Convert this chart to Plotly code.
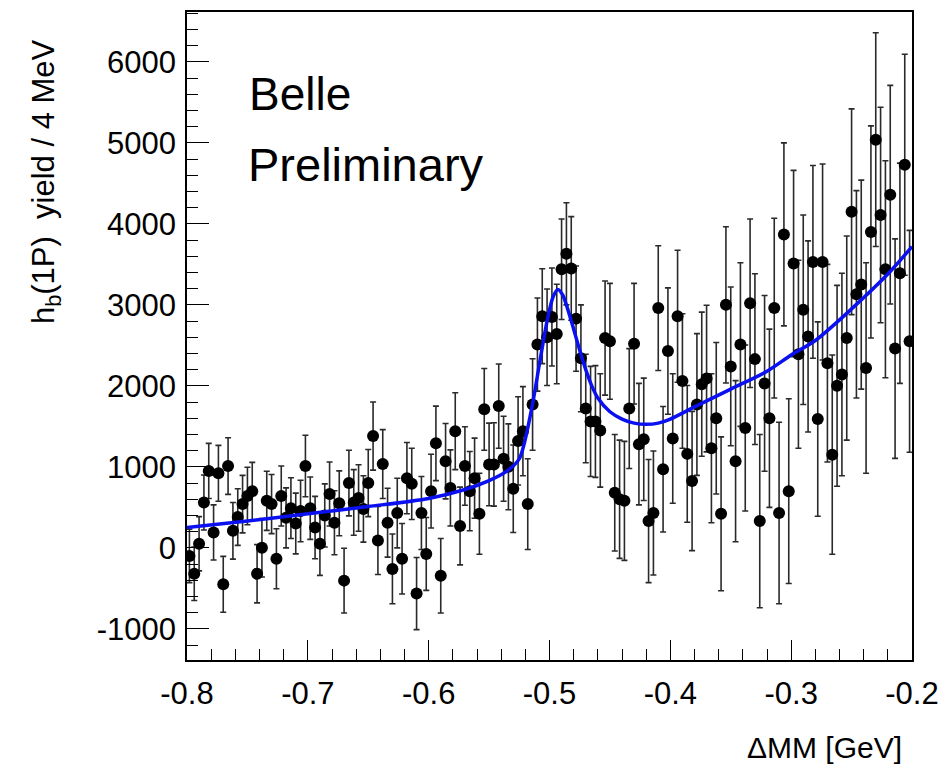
import plotly.graph_objects as go

# ---- data ----
BIN_LO = -0.8
BIN_W = 0.004

yield_vals = [
    -100, -320, 50, 560, 950, 190, 920, -450, 1010, 210,
    380, 540, 640, 700, -320, 0, 580, 540, -135, 640,
    370, 490, 300, 455, 1010, 490, 250, 50, 400, 665,
    310, 550, -405, 800, 560, 615, 480, 800, 1380, 90,
    1035, 310, -260, 430, -135, 860, 790, -565, 430, -75,
    700, 1290, -345, 1070, 740, 1440, 270, 1010, 700, 860,
    420, 1710, 1030, 1030, 1750, 1100, 1000, 730, 1320, 1440,
    540, 1770, 2510, 2860, 2600, 2850, 2640, 3440, 3630, 3450,
    2830, 2340, 1720, 1560, 1560, 1450, 2590, 2550, 680, 600,
    580, 1720, 2520, 1280, 1340, 330, 430, 2960, 970, 2430,
    1350, 2860, 2060, 1160, 825, 1770, 2020, 2090, 1230, 1600,
    420, 3000, 2240, 1070, 2510, 1480, 3020, 2330, 330, 2030,
    1600, 2960, 430, 3870, 700, 3510, 2390, 2940, 2610, 3530,
    1590, 3530, 2280, 1150, 2000, 2140, 2590, 4150, 3130, 3250,
    2220, 3900, 5040, 4110, 3440, 4360, 2460, 3390, 4730, 2550,
]

yield_err = [
    330, 330, 335, 340, 340, 340, 345, 345, 350, 350,
    350, 355, 355, 355, 360, 360, 365, 365, 370, 370,
    370, 375, 375, 380, 380, 385, 385, 390, 390, 395,
    395, 400, 400, 405, 405, 410, 410, 415, 420, 420,
    425, 425, 430, 430, 435, 440, 440, 445, 450, 450,
    455, 460, 460, 465, 470, 475, 480, 485, 490, 495,
    500, 505, 510, 515, 520, 525, 530, 540, 545, 550,
    560, 565, 575, 585, 595, 605, 615, 620, 630, 640,
    650, 660, 670, 680, 690, 700, 705, 715, 720, 730,
    735, 740, 745, 750, 755, 760, 765, 770, 775, 780,
    800, 815, 830, 845, 860, 875, 890, 905, 920, 935,
    950, 965, 980, 995, 1010, 1025, 1040, 1055, 1070, 1085,
    1100, 1110, 1120, 1130, 1140, 1150, 1160, 1170, 1180, 1190,
    1200, 1210, 1220, 1230, 1240, 1250, 1260, 1270, 1280, 1290,
    1300, 1310, 1320, 1330, 1340, 1350, 1355, 1360, 1365, 1370,
]

fit_x = [-0.8, -0.75, -0.7, -0.65, -0.6, -0.57, -0.55, -0.535, -0.525, -0.515,
         -0.508, -0.502, -0.497, -0.493, -0.489, -0.485, -0.48, -0.475, -0.47, -0.465,
         -0.46, -0.45, -0.44, -0.43, -0.42, -0.41, -0.4, -0.38, -0.35, -0.32,
         -0.3, -0.28, -0.25, -0.22, -0.2]
fit_y = [250, 330, 420, 510, 610, 720, 830, 950, 1100, 1700,
         2300, 2800, 3100, 3190, 3120, 2950, 2700, 2440, 2200, 2000,
         1850, 1680, 1590, 1540, 1525, 1540, 1590, 1740, 1960, 2180,
         2380, 2560, 2950, 3380, 3720]

x_tickvals = [-0.8, -0.7, -0.6, -0.5, -0.4, -0.3, -0.2]
x_ticktext = ["-0.8", "-0.7", "-0.6", "-0.5", "-0.4", "-0.3", "-0.2"]
y_tickvals = [-1000, 0, 1000, 2000, 3000, 4000, 5000, 6000]
y_ticktext = ["-1000", "0", "1000", "2000", "3000", "4000", "5000", "6000"]

bin_centers = [BIN_LO + BIN_W * (i + 0.5) for i in range(len(yield_vals))]

FONT = "Liberation Sans, Arial, Helvetica, sans-serif"

fig = go.Figure()
fig.add_trace(go.Scatter(
    x=bin_centers, y=yield_vals, mode="markers",
    marker=dict(color="black", size=12, symbol="circle"),
    error_y=dict(type="data", array=yield_err, color="#2a2a2a", thickness=1.6, width=3),
    showlegend=False,
))
fig.add_trace(go.Scatter(
    x=fit_x, y=fit_y, mode="lines",
    line=dict(color="#0a10f0", width=3.5, shape="spline", smoothing=0.8),
    showlegend=False,
))

axis_common = dict(
    showline=True, linecolor="black", linewidth=1.5, mirror=True,
    showgrid=False, zeroline=False, ticks="inside", tickcolor="black",
    tickwidth=1.2,
)

fig.update_xaxes(
    range=[-0.8, -0.2], tickmode="array", tickvals=x_tickvals, ticktext=x_ticktext,
    ticklen=20, ticklabelstandoff=5,
    tickfont=dict(family=FONT, size=31, color="black"),
    minor=dict(tick0=-0.8, dtick=0.02, ticks="inside", ticklen=11, tickcolor="black",
               tickwidth=1, showgrid=False),
    **axis_common,
)
fig.update_yaxes(
    range=[-1385, 6616], tickmode="array", tickvals=y_tickvals, ticktext=y_ticktext,
    ticklen=22, ticklabelstandoff=3,
    tickfont=dict(family=FONT, size=31, color="black"),
    minor=dict(tick0=0, dtick=200, ticks="inside", ticklen=11, tickcolor="black",
               tickwidth=1, showgrid=False),
    **axis_common,
)

fig.add_annotation(
    text="Belle", xref="paper", yref="paper", x=(248 - 187) / 733, y=(660 - 92) / 650,
    xanchor="left", yanchor="middle", showarrow=False,
    font=dict(family=FONT, size=46, color="black"),
)
fig.add_annotation(
    text="Preliminary", xref="paper", yref="paper", x=(247 - 187) / 733, y=(660 - 163) / 650,
    xanchor="left", yanchor="middle", showarrow=False,
    font=dict(family=FONT, size=47, color="black"),
)
fig.add_annotation(
    text="h<sub>b</sub>(1P)  yield / 4 MeV", xref="paper", yref="paper",
    x=(45 - 187) / 733, y=(660 - 180) / 650, xanchor="center", yanchor="middle",
    textangle=-90, showarrow=False,
    font=dict(family=FONT, size=31, color="black"),
)
fig.add_annotation(
    text="ΔMM [GeV]", xref="paper", yref="paper",
    x=(912 - 187) / 733, y=(660 - 748) / 650, xanchor="right", yanchor="middle",
    showarrow=False, font=dict(family=FONT, size=30, color="black"),
)

fig.update_layout(
    width=949, height=773,
    margin=dict(l=187, r=29, t=10, b=113),
    paper_bgcolor="white", plot_bgcolor="white",
    showlegend=False,
)

fig.write_html("out.html")
